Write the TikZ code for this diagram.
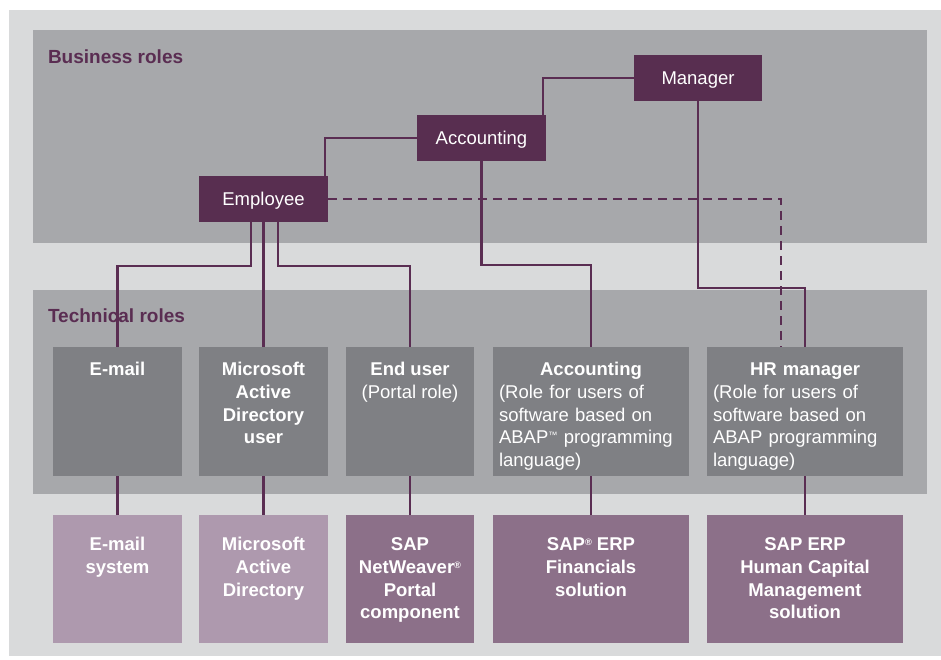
\documentclass[tikz,border=0pt]{standalone}
\usepackage{fontspec}
\setmainfont{Liberation Sans}
\definecolor{bgl}{HTML}{D9DADB}
\definecolor{panel}{HTML}{A7A8AB}
\definecolor{bizbox}{HTML}{582E50}
\definecolor{techbox}{HTML}{7F8084}
\definecolor{sysl}{HTML}{AE99AE}
\definecolor{sysd}{HTML}{8C7089}
\definecolor{wire}{HTML}{5A2D52}
\newcommand{\smallsup}[1]{\raisebox{0.55ex}{\scalebox{0.5}{#1}}}
\begin{document}
\begin{tikzpicture}[x=1pt,y=-1pt,
  biz/.style={fill=bizbox, inner sep=0, outer sep=0, text=white,
    font=\fontsize{18.5}{22.7}\selectfont, text height=13.2pt, text depth=0pt},
  techb/.style={fill=techbox, inner sep=0, outer sep=0, minimum height=129},
  sysbl/.style={fill=sysl, inner sep=0, outer sep=0, minimum height=128},
  sysbd/.style={fill=sysd, inner sep=0, outer sep=0, minimum height=128},
  btext/.style={text=white, inner sep=0, outer sep=0, anchor=north, align=center,
    font=\fontsize{18.5}{22.7}\selectfont},
  ltext/.style={text=white, inner sep=0, outer sep=0, anchor=north west, align=left,
    text width=195pt, font=\fontsize{18.5}{22.7}\selectfont},
  lbl/.style={text=wire, inner sep=0, outer sep=0, anchor=base west,
    font=\fontsize{19}{23}\selectfont\bfseries},
  wireline/.style={draw=wire, line width=2.1pt},
  wiredash/.style={draw=wire, line width=2.1pt, dash pattern=on 9pt off 6pt}]
\useasboundingbox (0,0) rectangle (941,660);
\fill[bgl] (9,10) rectangle (941,656);
\fill[panel] (33,30) rectangle (927,243);
\fill[panel] (33,290) rectangle (927,494);
\node[lbl] (bizlbl) at (48,64) {Business roles};
\node[lbl] (techlbl) at (48,322) {Technical roles};
% business roles
\node[biz, minimum width=129, minimum height=46] (emp) at (263.5,199) {Employee};
\node[biz, minimum width=129, minimum height=46] (acc) at (481.5,138) {Accounting};
\node[biz, minimum width=128, minimum height=46] (mgr) at (698,78) {Manager};
% technical roles
\node[techb, minimum width=129] (temail) at (117.5,411.5) {};
\node[techb, minimum width=129] (tmsad) at (263.5,411.5) {};
\node[techb, minimum width=128] (tend) at (410,411.5) {};
\node[techb, minimum width=196] (tacc) at (591,411.5) {};
\node[techb, minimum width=196] (thr) at (805,411.5) {};
% systems
\node[sysbl, minimum width=129] (bemail) at (117.5,579) {};
\node[sysbl, minimum width=129] (bmsad) at (263.5,579) {};
\node[sysbd, minimum width=128] (bend) at (410,579) {};
\node[sysbd, minimum width=196] (bacc) at (591,579) {};
\node[sysbd, minimum width=196] (bhr) at (805,579) {};
% technical texts
\node[btext] (temailt) at ([yshift=-12.85]temail.north) {\strut\bfseries E-mail};
\node[btext] (tmsadt) at ([yshift=-12.85]tmsad.north) {\strut\bfseries Microsoft\\\bfseries Active\\\bfseries Directory\\\bfseries user};
\node[btext] (tendt) at ([yshift=-12.85]tend.north) {\strut\bfseries End user\\(Portal role)};
\node[ltext] (tacct) at ([xshift=6,yshift=-12.85]tacc.north west) {\strut\makebox[184pt][c]{\bfseries Accounting}\\(Role for users of\\software based on\\ABAP\smallsup{™} programming\\language)};
\node[ltext] (thrt) at ([xshift=6,yshift=-12.85]thr.north west) {\strut\makebox[184pt][c]{\bfseries HR manager}\\(Role for users of\\software based on\\ABAP programming\\language)};
% system texts
\node[btext] (bemailt) at ([yshift=-19.85]bemail.north) {\strut\bfseries E-mail\\\bfseries system};
\node[btext] (bmsadt) at ([yshift=-19.85]bmsad.north) {\strut\bfseries Microsoft\\\bfseries Active\\\bfseries Directory};
\node[btext] (bendt) at ([yshift=-19.85]bend.north) {\strut\bfseries SAP\\\bfseries NetWeaver\smallsup{®}\\\bfseries Portal\\\bfseries component};
\node[btext] (bacct) at ([yshift=-19.85]bacc.north) {\strut\bfseries SAP\smallsup{®} ERP\\\bfseries Financials\\\bfseries solution};
\node[btext] (bhrt) at ([yshift=-19.85]bhr.north) {\strut\bfseries SAP ERP\\\bfseries Human Capital\\\bfseries Management\\\bfseries solution};
% connectors business
\draw[wireline] ([xshift=-3]emp.north east) |- (acc.west);
\draw[wireline] ([xshift=-3]acc.north east) |- (mgr.west);
\draw[wiredash] (emp.east) -| ([xshift=74]thr.north west);
\draw[wireline] ([xshift=52]emp.south west) -- ++(0,44) -| (temail.north);
\draw[wireline] (emp.south) -- (tmsad.north);
\draw[wireline] ([xshift=79]emp.south west) -- ++(0,44) -| (tend.north);
\draw[wireline] (acc.south) -- ++(0,104) -| (tacc.north);
\draw[wireline] (mgr.south) -- ++(0,187) -| (thr.north);
% connectors technical to systems
\draw[wireline] (temail.south) -- (bemail.north);
\draw[wireline] (tmsad.south) -- (bmsad.north);
\draw[wireline] (tend.south) -- (bend.north);
\draw[wireline] (tacc.south) -- (bacc.north);
\draw[wireline] (thr.south) -- (bhr.north);
\end{tikzpicture}
\end{document}
